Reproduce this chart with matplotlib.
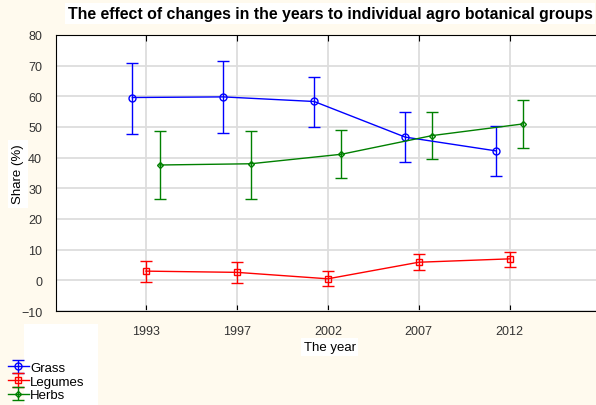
import matplotlib.pyplot as plt
import numpy as np

plt.rcParams['font.family'] = ['Liberation Sans', 'DejaVu Sans']

years = ['1993', '1997', '2002', '2007', '2012']

grass = [59.6, 59.8, 58.3, 46.7, 42.2]
grass_lo = [47.7, 48.0, 50.0, 38.6, 34.0]
grass_hi = [70.9, 71.4, 66.3, 55.0, 50.3]

legumes = [3.0, 2.6, 0.5, 5.9, 7.0]
legumes_lo = [-0.4, -1.0, -2.0, 3.3, 4.5]
legumes_hi = [6.3, 6.0, 3.1, 8.5, 9.2]

herbs = [37.6, 38.0, 41.1, 47.2, 51.0]
herbs_lo = [26.5, 26.5, 33.3, 39.5, 43.0]
herbs_hi = [48.8, 48.8, 49.0, 55.0, 58.8]

bg = '#fffaee'
fig = plt.figure(figsize=(5.96, 4.06), dpi=100, facecolor=bg)
ax = fig.add_axes([0.094, 0.2315, 0.906, 0.68])
ax.set_facecolor('white')

x = np.arange(len(years))
off = 0.15

def draw(xs, vals, lo, hi, color, marker, ms, label):
    vals = np.array(vals)
    err = [vals - np.array(lo), np.array(hi) - vals]
    return ax.errorbar(xs, vals, yerr=err, color=color, lw=1, marker=marker,
                       ms=ms, mfc='none', mec=color, mew=1, capsize=4.5,
                       elinewidth=1, capthick=1, label=label, zorder=3)

h1 = draw(x - off, grass, grass_lo, grass_hi, '#0000ff', 'o', 5, 'Grass')
h2 = draw(x, legumes, legumes_lo, legumes_hi, '#ff0000', 's', 5, 'Legumes')
h3 = draw(x + off, herbs, herbs_lo, herbs_hi, '#008000', 'D', 3, 'Herbs')

ax.set_xlim(-0.99, 4.95)
ax.set_ylim(-10, 80)
ax.set_xticks(x)
ax.set_xticklabels(years)
ax.set_yticks(np.arange(-10, 81, 10))
ax.grid(True, color='#dddddd', lw=1.3, zorder=0)
ax.set_axisbelow(True)
ax.spines['right'].set_visible(False)
ax.tick_params(axis='x', direction='in', top=True, bottom=True, length=4,
               labelsize=9, labelcolor='#333333', pad=10)
ax.tick_params(axis='y', direction='out', length=0, labelsize=9,
               labelcolor='#333333', pad=10)

fig.text(0.554, 0.965, 'The effect of changes in the years to individual agro botanical groups',
         ha='center', va='center', fontsize=11.4, fontweight='bold',
         bbox=dict(facecolor='white', edgecolor='none', pad=2))
fig.text(0.03, 0.57, 'Share (%)', rotation=90, ha='center', va='center', fontsize=9.5,
         bbox=dict(facecolor='white', edgecolor='none', pad=3))
fig.text(0.553, 0.143, 'The year', ha='center', va='center', fontsize=9.5,
         bbox=dict(facecolor='white', edgecolor='none', pad=2))

fig.patches.append(plt.Rectangle((0.04, 0.0), 0.125, 0.2, transform=fig.transFigure,
                                 facecolor='white', edgecolor='none', zorder=0))
leg = fig.legend(handles=[h1, h2, h3], loc='lower left', bbox_to_anchor=(0.0, -0.01),
                 frameon=False, fontsize=9.5, handlelength=1.6, handletextpad=0.1,
                 labelspacing=0.1, borderaxespad=0.2)

fig.savefig('out.png', dpi=100, facecolor=bg)
